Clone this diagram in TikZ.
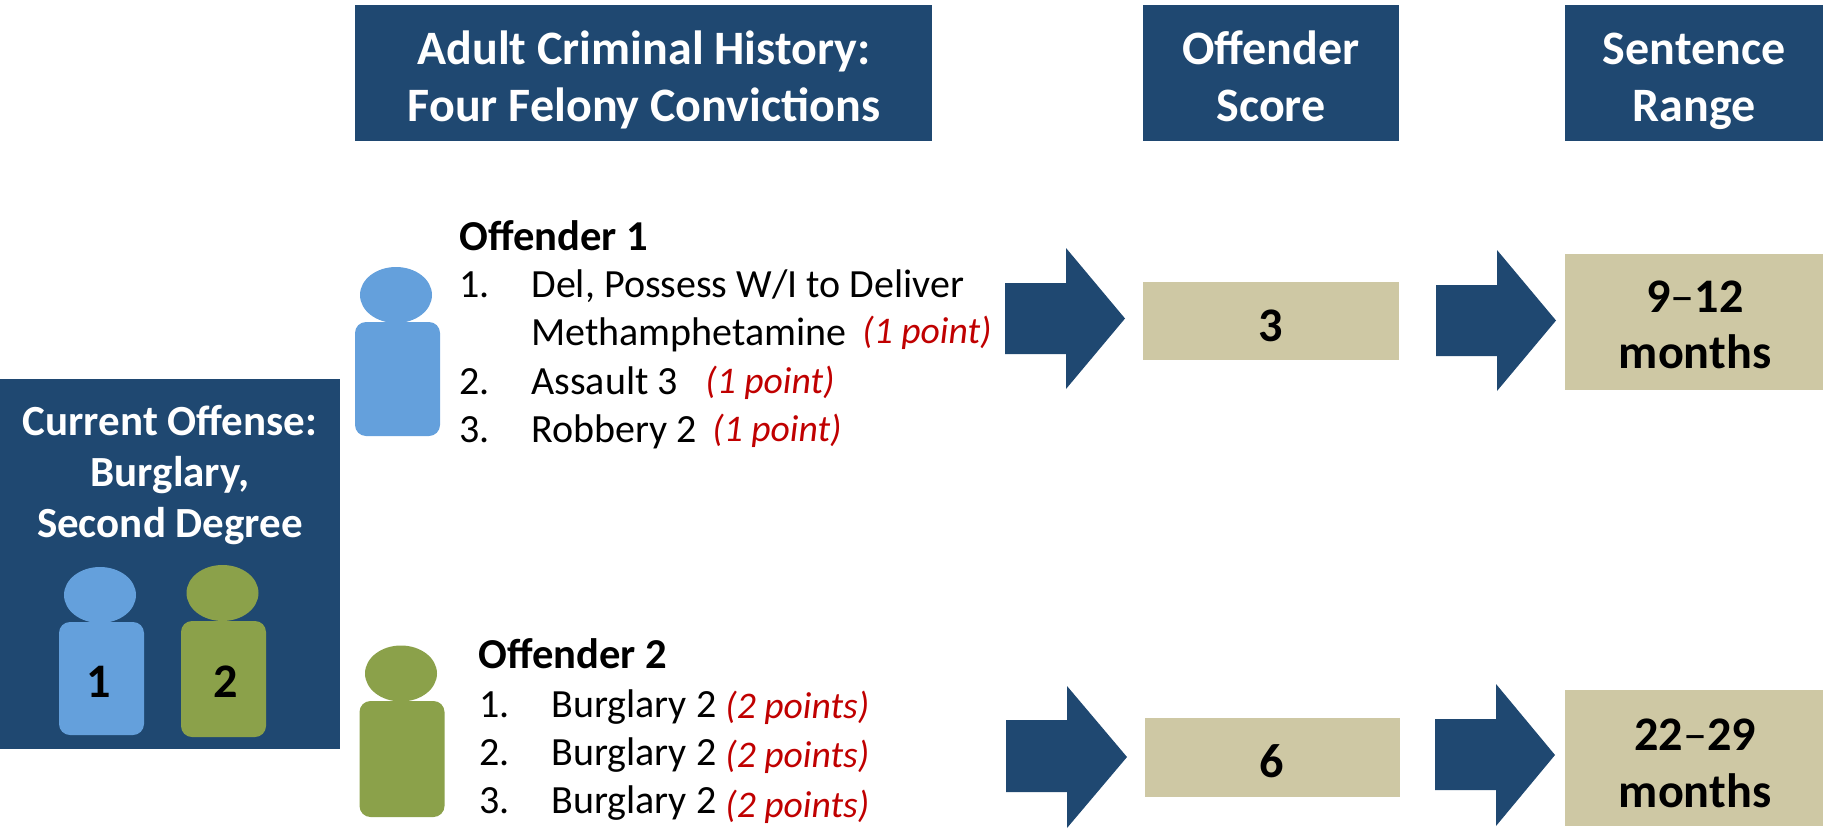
\documentclass[tikz,border=0pt]{standalone}
\usepackage{fontspec}
\setmainfont{Carlito}
\definecolor{navy}{HTML}{1F4871}
\definecolor{pblue}{HTML}{64A0DC}
\definecolor{pgreen}{HTML}{8BA14A}
\definecolor{tan}{HTML}{CEC8A4}
\definecolor{redtxt}{HTML}{C00000}
\tikzset{
  x=0.5pt,y=-0.5pt,
  hd/.style={anchor=base,inner sep=0pt,font=\fontsize{24}{28}\selectfont\bfseries,text=white},
  cur/.style={anchor=base,inner sep=0pt,font=\fontsize{21.5}{26}\selectfont\bfseries,text=white},
  bd/.style={anchor=base west,inner sep=0pt,font=\fontsize{20}{24}\selectfont,text=black},
  bdb/.style={anchor=base west,inner sep=0pt,font=\fontsize{21.3}{25}\selectfont\bfseries,text=black},
  pt/.style={anchor=base west,inner sep=0pt,font=\fontsize{18.8}{22}\selectfont\itshape,text=redtxt},
  val/.style={anchor=base,inner sep=0pt,font=\fontsize{24.1}{28}\selectfont\bfseries,text=black},
  blockarrow/.style={fill=navy,draw=none},
  bodyshape/.style={rounded corners=5.5pt,draw=none},
}
\newcommand{\person}[6]{%
  \fill[#1] ({#2},{#3}) ellipse [x radius=18pt,y radius=14pt];
  \fill[#1,bodyshape] ({#4},{#5}) rectangle ++(85,{#6});
}
\newcommand{\barrow}[7]{% x0,xn,xt,ytop,ys1,ys2,ybot
  \fill[blockarrow] (#1,#5) -- (#2,#5) -- (#2,#4) -- (#3,{(#4+#7)/2}) -- (#2,#7) -- (#2,#6) -- (#1,#6) -- cycle;
}
\begin{document}
\begin{tikzpicture}
\useasboundingbox (0,0) rectangle (1825,829);
% boxes
\fill[navy] (355,5) rectangle (932,141);
\fill[navy] (1143,5) rectangle (1399,141);
\fill[navy] (1565,5) rectangle (1823,141);
\fill[navy] (0,379) rectangle (340,749);
\fill[tan] (1143,282) rectangle (1399,360);
\fill[tan] (1145,718) rectangle (1400,797);
\fill[tan] (1565,254) rectangle (1823,390);
\fill[tan] (1565,690) rectangle (1823,826);
% arrows
\barrow{1005}{1066}{1125}{248}{283}{354}{389}
\barrow{1436}{1497}{1556}{250}{285}{356}{391}
\barrow{1006}{1067}{1127}{686}{720}{792}{828}
\barrow{1435}{1496}{1555}{684}{719}{790}{826}
% persons
\person{pblue}{396}{295}{355}{322}{114}
\person{pgreen}{401}{673.5}{359.5}{701}{116}
\person{pblue}{100}{595}{59}{622}{113}
\person{pgreen}{222.5}{593}{181}{621}{116}
% headers
\node[hd] (h1a) at (644,65) {Adult Criminal History:};
\node[hd] (h1b) at (644,121) {Four Felony Convictions};
\node[hd] (h2a) at (1271,65) {Offender};
\node[hd] (h2b) at (1271,121) {Score};
\node[hd] (h3a) at (1694,65) {Sentence};
\node[hd] (h3b) at (1694,121) {Range};
% current offense
\node[cur] (c1) at (170,435) {Current Offense:};
\node[cur] (c2) at (170,486) {Burglary,};
\node[cur] (c3) at (170,537) {Second Degree};
\node[val] (n1) at (98.5,697) {1};
\node[val] (n2) at (226,697) {2};
% offender 1
\node[bdb] (o1) at (459,250) {Offender 1};
\node[bd] (o1n1) at (459,297) {1.};
\node[bd] (o1t1) at (531,297) {Del, Possess W/I to Deliver};
\node[bd] (o1t1b) at (531,345) {Methamphetamine};
\node[pt] (o1p1) at (862,343) {(1 point)};
\node[bd] (o1n2) at (459,394) {2.};
\node[bd] (o1t2) at (531,394) {Assault 3};
\node[pt] (o1p2) at (705,393) {(1 point)};
\node[bd] (o1n3) at (459,442) {3.};
\node[bd] (o1t3) at (531,442) {Robbery 2};
\node[pt] (o1p3) at (712,441) {(1 point)};
% offender 2
\node[bdb] (o2) at (478,668) {Offender 2};
\node[bd] (o2n1) at (479,717) {1.};
\node[bd] (o2t1) at (551,717) {Burglary 2};
\node[pt] (o2p1) at (725,718) {(2 points)};
\node[bd] (o2n2) at (479,765) {2.};
\node[bd] (o2t2) at (551,765) {Burglary 2};
\node[pt] (o2p2) at (725,767) {(2 points)};
\node[bd] (o2n3) at (479,813) {3.};
\node[bd] (o2t3) at (551,813) {Burglary 2};
\node[pt] (o2p3) at (725,817) {(2 points)};
% values
\node[val] (s1) at (1271,341) {3};
\node[val] (s2) at (1272,777) {6};
\node[val] (r1a) at (1695,312) {9\textmd{–}12};
\node[val] (r1b) at (1695,368) {months};
\node[val] (r2a) at (1695,750) {22\textmd{–}29};
\node[val] (r2b) at (1695,807) {months};
\end{tikzpicture}
\end{document}
